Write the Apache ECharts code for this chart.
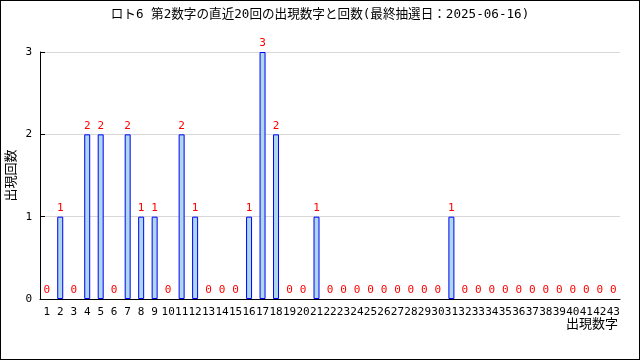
<!DOCTYPE html>
<html><head><meta charset="utf-8">
<script src="https://cdn.jsdelivr.net/npm/echarts@6/dist/echarts.min.js"></script>
<style>html,body{margin:0;padding:0;background:#fff}#c{width:640px;height:360px;box-sizing:border-box;border:1px solid #000}</style>
</head><body><div id="c"></div>
<script>
const titleText = 'ロト6 第2数字の直近20回の出現数字と回数(最終抽選日：2025-06-16)';
const xName = '出現数字';
const yName = '出現回数';
const categories = [];
for (let i = 1; i <= 43; i++) categories.push(String(i));
const counts = [0,1,0,2,2,0,2,1,1,0,2,1,0,0,0,1,3,2,0,0,1,0,0,0,0,0,0,0,0,0,1,0,0,0,0,0,0,0,0,0,0,0,0];
const yTicks = [0,1,2,3];
const font = '"DejaVu Sans Mono", "Noto Sans CJK JP", monospace';
const barData = counts.map(v => v === 0 ? {value: v, itemStyle: {borderWidth: 0, color: 'transparent'}} : v);
const chart = echarts.init(document.getElementById('c'));
chart.setOption({
  animation: false,
  title: [
    {text: titleText, left: 'center', top: 2, textStyle: {fontSize: 12.6, fontWeight: 'normal', color: '#000', fontFamily: font}},
    {text: xName, right: 16, top: 312, textStyle: {fontSize: 13, fontWeight: 'normal', color: '#000', fontFamily: font}}
  ],
  grid: {left: 39, right: 19, top: 51, bottom: 60, outerBoundsMode: 'none', containLabel: false},
  xAxis: {
    type: 'category', data: categories, boundaryGap: true,
    axisLine: {lineStyle: {color: '#000'}},
    axisTick: {inside: true, length: 4, lineStyle: {color: '#000'}},
    axisLabel: {interval: 0, fontSize: 11, color: '#000', margin: 8, fontFamily: font}
  },
  yAxis: {
    type: 'value', min: 0, max: 3, interval: 1,
    name: yName, nameLocation: 'middle', nameGap: 22, nameRotate: 90, nameMoveOverlap: false,
    nameTextStyle: {fontSize: 13, color: '#000', fontFamily: font},
    axisLine: {show: true, lineStyle: {color: '#000'}},
    axisTick: {show: true, inside: true, length: 5, lineStyle: {color: '#000'}},
    axisLabel: {fontSize: 11, color: '#000', margin: 8, fontFamily: font, formatter: v => yTicks.includes(v) ? String(v) : ''},
    splitLine: {lineStyle: {color: '#d8d8d8'}}
  },
  series: [{
    type: 'bar', data: barData, barWidth: 6,
    itemStyle: {color: '#add8e6', borderColor: '#0000ff', borderWidth: 1},
    label: {show: true, position: 'top', color: '#ff0000', fontSize: 11, distance: 3, fontFamily: font}
  }]
});
</script></body></html>
